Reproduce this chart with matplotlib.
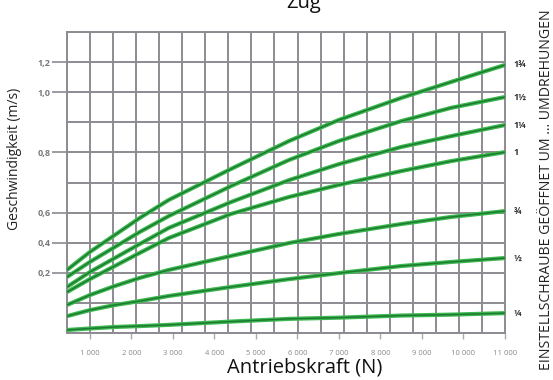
import numpy as np
import matplotlib
matplotlib.use("Agg")
import matplotlib.pyplot as plt

# ---- data ----
force = [450, 1000, 1600, 2200, 2900, 4400, 5800, 7000, 8500, 9700, 11000]  # N
curve_labels = ["1¾", "1½", "1¼", "1", "¾", "½", "¼"]
v_1_75 = [0.219, 0.338, 0.451, 0.564, 0.642, 0.745, 0.838, 0.908, 0.981, 1.068, 1.181]
v_1_50 = [0.186, 0.272, 0.371, 0.471, 0.577, 0.688, 0.775, 0.838, 0.904, 0.948, 0.984]
v_1_25 = [0.153, 0.205, 0.298, 0.391, 0.498, 0.635, 0.708, 0.761, 0.818, 0.854, 0.891]
v_1_00 = [0.136, 0.179, 0.245, 0.332, 0.431, 0.591, 0.652, 0.692, 0.738, 0.771, 0.801]
v_0_75 = [0.093, 0.126, 0.156, 0.183, 0.219, 0.312, 0.398, 0.458, 0.524, 0.571, 0.605]
v_0_50 = [0.056, 0.076, 0.093, 0.106, 0.123, 0.153, 0.179, 0.199, 0.245, 0.272, 0.298]
v_0_25 = [0.010, 0.015, 0.020, 0.023, 0.027, 0.038, 0.047, 0.051, 0.058, 0.061, 0.066]
series = [v_1_75, v_1_50, v_1_25, v_1_00, v_0_75, v_0_50, v_0_25]

x_ticks = [1000, 2000, 3000, 4000, 5000, 6000, 7000, 8000, 9000, 10000, 11000]
x_ticklabels = ["1 000", "2 000", "3 000", "4 000", "5 000", "6 000", "7 000",
                "8 000", "9 000", "10 000", "11 000"]
y_ticks = [0.2, 0.4, 0.6, 0.8, 1.0, 1.2]
y_ticklabels = ["0,2", "0,4", "0,6", "0,8", "1,0", "1,2"]

# non-uniform printed speed scale: value -> grid row
scale_vals = [0.0, 0.2, 0.4, 0.6, 1.0, 1.2, 1.4]
scale_rows = [0.0, 2.0, 3.0, 4.0, 8.0, 9.0, 10.0]

def fwd(v):
    return np.interp(v, scale_vals, scale_rows)

def inv(r):
    return np.interp(r, scale_rows, scale_vals)

plt.rcParams['font.family'] = ['Open Sans', 'DejaVu Sans']

fig = plt.figure(figsize=(5.53, 3.80), dpi=100)
ax = fig.add_axes([67/553, 1-333/380, (505-67)/553, (333-32)/380])
ax.set_yscale('function', functions=(fwd, inv))
ax.set_xlim(450, 11000)
ax.set_ylim(0, 1.4)

grid_c = '#8e8a92'
ax.set_xticks(np.linspace(450, 11000, 20), minor=True)
ax.set_yticks(inv(np.arange(0, 11)), minor=True)
ax.set_xticks(x_ticks)
ax.set_xticklabels(x_ticklabels, fontsize=5.5, color='#8a8a8a')
ax.set_yticks(y_ticks)
ax.set_yticklabels(y_ticklabels, fontsize=6.5, color='#7a7a7a', fontweight='bold')

ax.xaxis.grid(True, which='minor', color=grid_c, lw=1.4)
ax.xaxis.grid(False, which='major')
ax.yaxis.grid(True, which='both', color=grid_c, lw=1.4)
ax.tick_params(which='minor', length=0)
ax.set_axisbelow(True)
for s in ax.spines.values():
    s.set_color(grid_c)
    s.set_linewidth(1.4)

ax.tick_params(axis='x', which='major', length=4, width=1, color='#aaaaaa',
               pad=8)
ax.tick_params(axis='y', which='major', length=11, width=1.2, color=grid_c,
               pad=1)

for vals, lab in zip(series, curve_labels):
    ax.plot(force, vals, color='#3cb84e', lw=3.0, solid_capstyle='butt',
            solid_joinstyle='round', zorder=3)
    ax.plot(force, vals, color='#1c7a31', lw=1.1, solid_capstyle='butt',
            solid_joinstyle='round', zorder=4)
    ax.annotate(lab, xy=(force[-1], vals[-1]), xytext=(6, 0),
                textcoords='offset points', va='center', ha='left',
                fontsize=6.5, color='#333333', fontweight='bold',
                annotation_clip=False)

fig.text(305/553, 1-372/380, "Antriebskraft (N)", ha='center', va='baseline',
         fontsize=14.5, color='#111111')
fig.text(15/553, 1-159/380, "Geschwindigkeit (m/s)", rotation=90,
         ha='center', va='center', fontsize=10, color='#222222')
fig.text(304/553, 1-8/380, "Zug", ha='center', va='baseline',
         fontsize=14.5, color='#111111')
fig.text(547/553, 0.5, "EINSTELLSCHRAUBE GEÖFFNET UM ... UMDREHUNGEN",
         rotation=90, ha='center', va='center', fontsize=10.2, color='#222222')

fig.savefig("out.png", dpi=100)
